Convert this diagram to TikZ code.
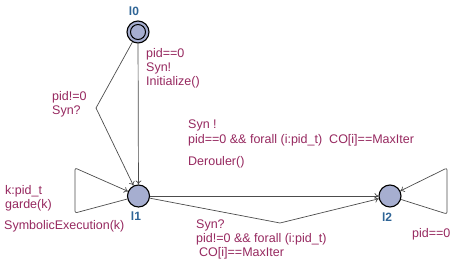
\documentclass[tikz,border=0pt]{standalone}
\usepackage{fontspec}
\setmainfont{Liberation Sans}
\usetikzlibrary{arrows.meta}
\definecolor{lblcol}{RGB}{150,40,95}
\definecolor{namecol}{RGB}{46,100,150}
\definecolor{locfill}{RGB}{166,174,208}
\tikzset{loc/.style={circle, draw=black, line width=1.1pt, fill=locfill, minimum size=22pt, inner sep=0pt},
    locname/.style={text=namecol, inner sep=0pt, font=\fontsize{12}{14}\selectfont\bfseries},
    lbl/.style={text=lblcol, anchor=north west, inner sep=0pt, align=left, font=\fontsize{12.5}{14}\selectfont},
    edge/.style={draw=black!70, line width=0.7pt, -{To[length=4pt,width=6pt]}}}

\begin{document}
\begin{tikzpicture}[x=1pt,y=-1pt]
        \useasboundingbox (0,0) rectangle (458,259);
        % locations
        \node[loc] (l0) at (138,32) {}; \draw[line width=1pt] (l0.center) circle[radius=7.5pt];
        \node[loc] (l1) at (138.5,196) {}; \node[loc] (l2) at (390,196) {};
        \node[locname] (n0) at (134,11) {l0}; \node[locname] (n1) at (136,216) {l1}; \node[locname] (n2) at (387,217) {l2};
        % transitions
        \draw[edge] (l0) -- (l1); \draw[edge] (l0) -- (96,108) -- (l1); \draw[edge, rounded corners=2pt] (l1) -- (75,213) -- (75,168) -- (l1);
        \draw[edge] (l1) -- (l2); \draw[edge] (l1) -- (280,223) -- (l2); \draw[edge, rounded corners=2pt] (l2) -- (447,214) -- (447,168) -- (l2);
        % labels
        \node[lbl] (t0) at (146,48) {pid==0\\Syn!\\Initialize()};
        \node[lbl] (t1) at (52,91) {pid!=0\\Syn?};
        \node[lbl] (t2) at (5,185) {k:pid\_t\\garde(k)}; \node[lbl] (t3) at (4,220) {SymbolicExecution(k)};
        \node[lbl] (t4) at (188,120) {Syn !}; \node[lbl] (t5) at (188,134) {pid==0 \&\& forall (i:pid\_t)\ \ CO[i]==MaxIter}; \node[lbl] (t6) at (188,156) {Derouler()};
        \node[lbl] (t7) at (196,220) {Syn?\\pid!=0 \&\& forall (i:pid\_t)\\\hspace{3pt}CO[i]==MaxIter};
        \node[lbl] (t8) at (412,228) {pid==0};
    \end{tikzpicture}
\end{document}
